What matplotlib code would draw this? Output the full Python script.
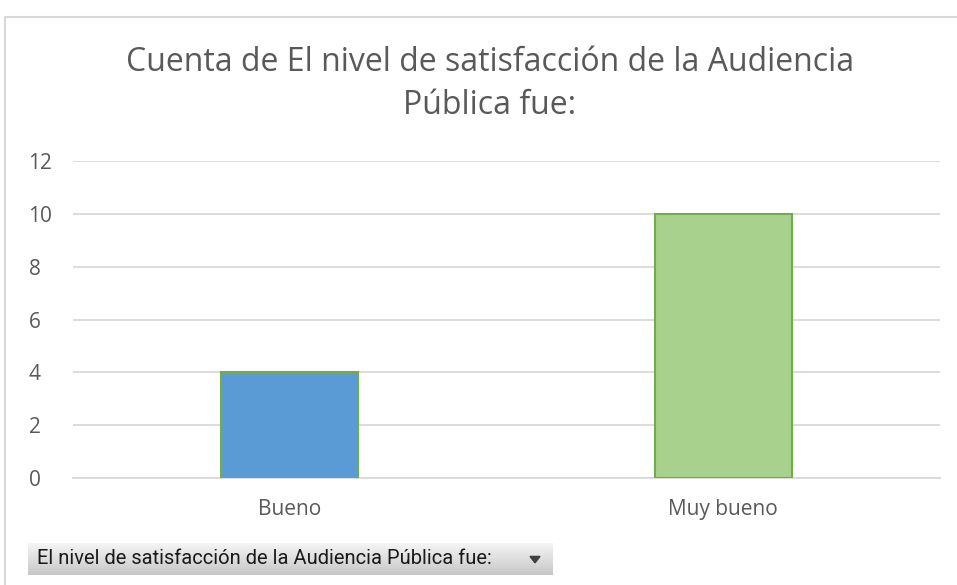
import numpy as np
import matplotlib.pyplot as plt
from matplotlib.patches import Rectangle, Polygon

categories = ['Bueno', 'Muy bueno']
counts = [4, 10]
fill_colors = ['#5B9BD5', '#A9D18E']
title = 'Cuenta de El nivel de satisfacción de la Audiencia\nPública fue:'
field_label = 'El nivel de satisfacción de la Audiencia Pública fue:'

plt.rcParams['font.family'] = ['Open Sans', 'DejaVu Sans']

W, H = 957, 585
fig = plt.figure(figsize=(W / 100, H / 100), dpi=100)

# chart frame (runs off the right/bottom edge like the screenshot)
fig.patches.append(Rectangle((5 / W, -0.1), 1.2, 1 - 17 / H + 0.1, transform=fig.transFigure,
                             fill=False, edgecolor='#D9D9D9', linewidth=1.5))

ax = fig.add_axes([73 / W, 1 - 478 / H, 867 / W, 317 / H])
x = np.arange(len(categories))
ax.bar(x, counts, width=0.316, color=fill_colors, edgecolor='#70AD47', linewidth=1.5, zorder=3)
ax.set_xlim(-0.5, len(categories) - 0.5)
ax.set_ylim(0, 12)
ax.set_yticks(range(0, 13, 2))
ax.set_xticks(x)
ax.set_xticklabels(categories)
ax.yaxis.grid(True, color='#D9D9D9', linewidth=1.3)
ax.set_axisbelow(True)
for s in ['top', 'right', 'left']:
    ax.spines[s].set_visible(False)
ax.spines['bottom'].set_color('#D9D9D9')
ax.spines['bottom'].set_linewidth(1.3)
ax.tick_params(length=0, labelsize=15, colors='#595959', pad=15)
ax.tick_params(axis='y', pad=32)
for lbl in ax.get_yticklabels():
    lbl.set_horizontalalignment('left')

fig.text(490 / W, 1 - 84 / H, title, ha='center', va='center', fontsize=23,
         color='#595959', linespacing=1.42)

# field button with gray gradient
bx0, by0, bx1, by1 = 28 / W, 1 - 575 / H, 553 / W, 1 - 543 / H
grad = np.linspace(0.96, 0.78, 50).reshape(-1, 1)
bax = fig.add_axes([bx0, by0, bx1 - bx0, by1 - by0])
bax.imshow(np.dstack([grad, grad, grad]), aspect='auto', extent=[0, 1, 0, 1])
bax.set_xlim(0, 1)
bax.set_ylim(0, 1)
bax.axis('off')
bax.text(9 / 525, 0.5, field_label, ha='left', va='center', fontsize=14.5,
         family=['Roboto', 'DejaVu Sans'], color='#1a1a1a')
bax.add_patch(Polygon([[502 / 525, 0.58], [512 / 525, 0.58], [507 / 525, 0.38]],
                      closed=True, color='#404040'))

fig.savefig('out.png', dpi=100)
